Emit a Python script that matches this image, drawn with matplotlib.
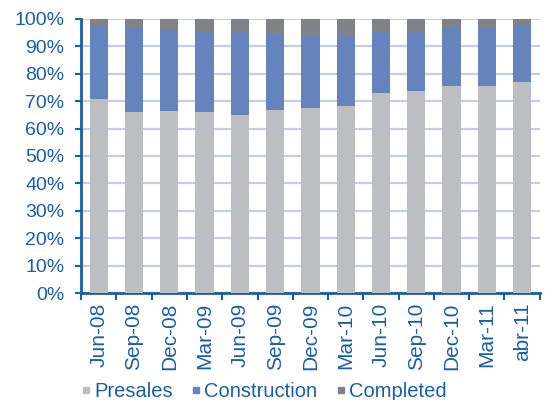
import matplotlib
matplotlib.use("Agg")
import matplotlib.pyplot as plt
from matplotlib.lines import Line2D
from matplotlib.ticker import PercentFormatter, FixedLocator
import numpy as np

# -----------------------
# Data (shares of units, %)
# -----------------------
periods = ["Jun-08", "Sep-08", "Dec-08", "Mar-09", "Jun-09", "Sep-09", "Dec-09",
           "Mar-10", "Jun-10", "Sep-10", "Dec-10", "Mar-11", "abr-11"]
presales = [70.9, 66.1, 66.5, 66.1, 65.0, 66.9, 67.6, 68.3, 73.0, 73.8, 75.6, 75.6, 77.1]
construction = [26.8, 30.9, 30.0, 29.3, 30.4, 27.8, 26.7, 26.0, 22.4, 21.9, 21.4, 21.4, 20.6]
completed = [2.3, 3.0, 3.5, 4.6, 4.6, 5.3, 5.7, 5.7, 4.6, 4.3, 3.0, 3.0, 2.3]

series_names = ["Presales", "Construction", "Completed"]
colors = ["#BDBEC2", "#6583BC", "#808285"]
TEXT = "#1A5EA8"
GRID = "#C3CEE6"

plt.rcParams["font.family"] = ["Liberation Sans", "DejaVu Sans"]

fig = plt.figure(figsize=(5.48, 4.0), dpi=100)
ax = fig.add_axes([0.148, 0.2675, 0.837, 0.685])

x = np.arange(len(periods))
bottom = np.zeros(len(periods))
for vals, col in zip([presales, construction, completed], colors):
    ax.bar(x, vals, width=0.52, bottom=bottom, color=col, zorder=3)
    bottom += np.array(vals)

ax.set_xlim(-0.5, len(periods) - 0.5)
ax.set_ylim(0, 100)
ax.set_yticks(np.arange(0, 101, 10))
ax.yaxis.set_major_formatter(PercentFormatter(decimals=0))
ax.yaxis.grid(True, color=GRID, lw=1.6, zorder=0)
ax.set_axisbelow(True)

# category labels centred, tick marks between categories
ax.set_xticks(x)
ax.set_xticklabels(periods, rotation=90)
ax.xaxis.set_minor_locator(FixedLocator(np.arange(-0.5, len(periods), 1)))
ax.tick_params(axis="x", which="major", length=0, pad=7, labelsize=15, labelcolor=TEXT)
ax.tick_params(axis="x", which="minor", length=5, width=1.5, color=TEXT)
ax.tick_params(axis="y", length=4, width=1.5, color=TEXT, labelsize=14,
               labelcolor=TEXT, pad=8)

for s in ["top", "right"]:
    ax.spines[s].set_visible(False)
for s in ["left", "bottom"]:
    ax.spines[s].set_color(TEXT)
    ax.spines[s].set_linewidth(2)

handles = [Line2D([], [], marker="s", ls="none", markersize=5, color=c) for c in colors]
fig.legend(handles, series_names, loc="center left", bbox_to_anchor=(0.143, 0.022),
           ncol=3, frameon=False, fontsize=14.5, labelcolor=TEXT, borderpad=0,
           borderaxespad=0, handletextpad=0.0, columnspacing=0.75, handlelength=0.8)

fig.savefig("out.png", dpi=100)
